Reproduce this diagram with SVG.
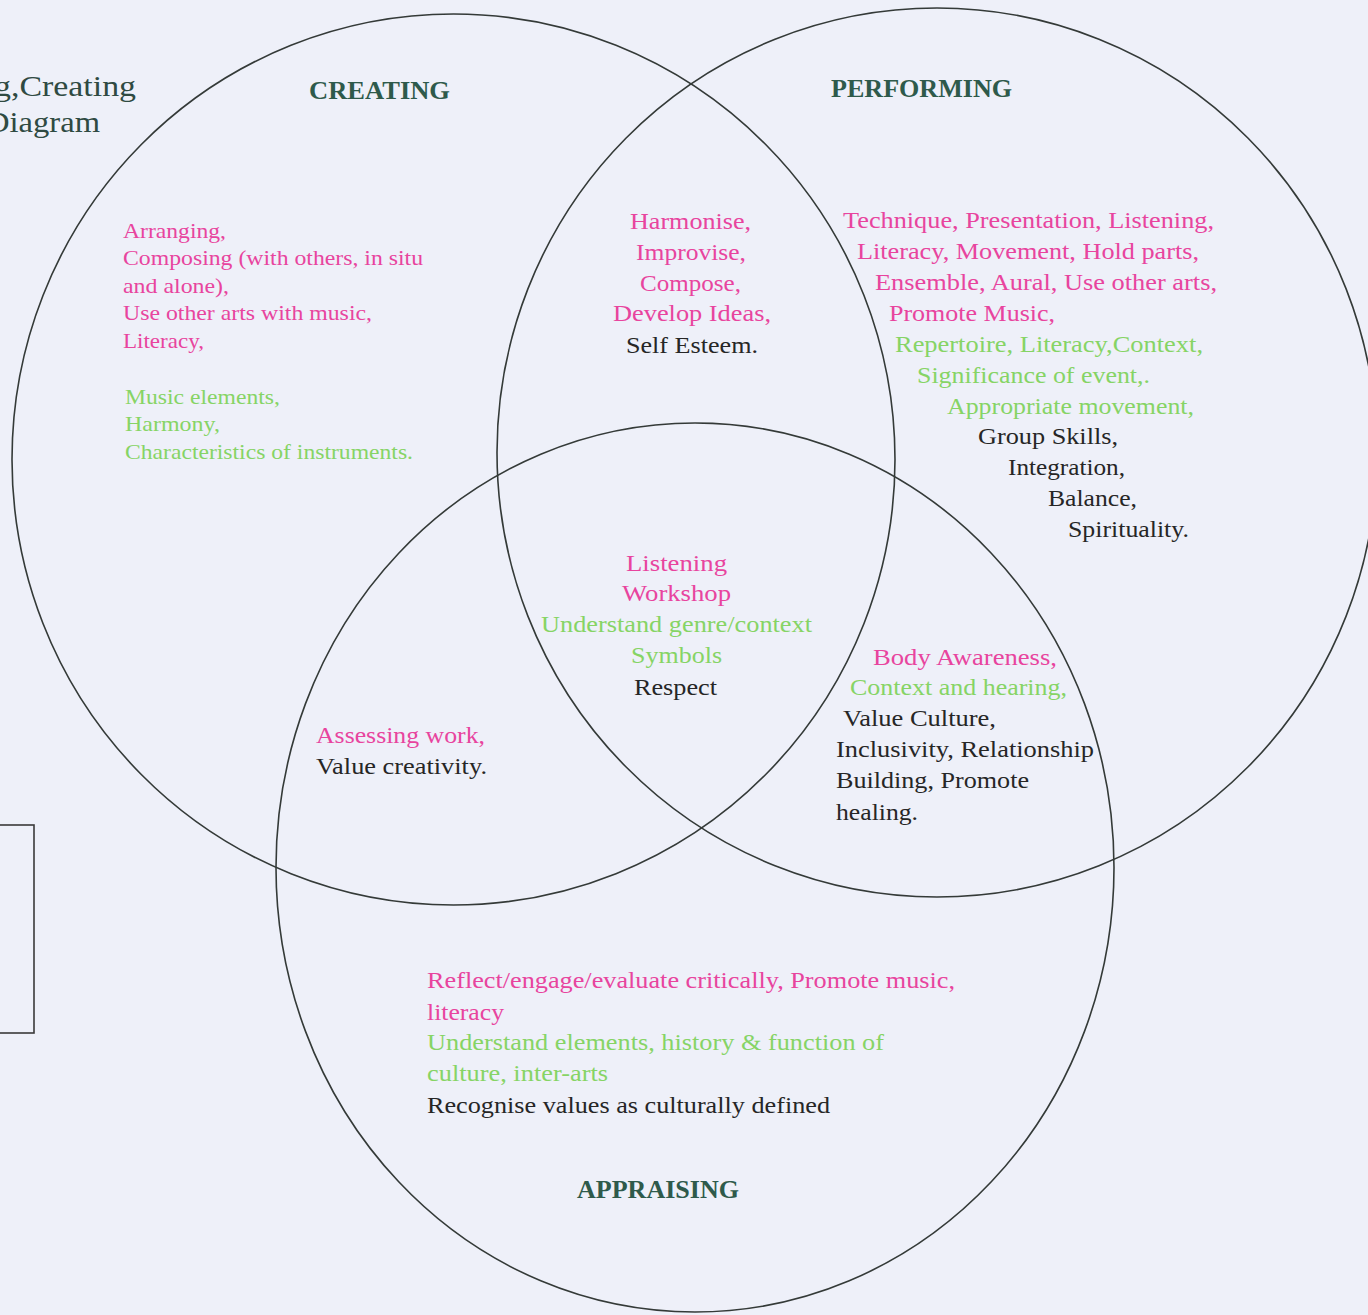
<svg xmlns="http://www.w3.org/2000/svg" width="1368" height="1315" viewBox="0 0 1368 1315">
<style>
text{font-family:"Liberation Serif","Times New Roman",serif;font-size:24px}
.p{fill:#e8449e}
.g{fill:#86d465}
.k{fill:#262626}
.h{fill:#2e5a4b;font-weight:bold;font-size:25px}
.t{fill:#2f4a42;font-size:30px}
.s{font-size:22px}
.ring{fill:none;stroke:#343a38;stroke-width:1.6}
</style>
<rect width="1368" height="1315" fill="#eef0f9"/>
<g id="connectors"></g>
<g id="title">
<text class="t" x="-6" y="96" textLength="142" lengthAdjust="spacingAndGlyphs">g,Creating</text>
<text class="t" x="-14" y="132" textLength="114" lengthAdjust="spacingAndGlyphs">Diagram</text>
</g>
<g id="box"><rect x="-5" y="825" width="39" height="208" fill="none" stroke="#3a3a3a" stroke-width="1.6"/></g>
<g id="creating">
<ellipse class="ring" cx="453.5" cy="459.5" rx="441.5" ry="445.5"/>
<text class="h" x="309" y="99" textLength="141" lengthAdjust="spacingAndGlyphs">CREATING</text>
<text class="p s" x="123" y="238" textLength="103" lengthAdjust="spacingAndGlyphs">Arranging,</text>
<text class="p s" x="123" y="265" textLength="300" lengthAdjust="spacingAndGlyphs">Composing (with others, in situ</text>
<text class="p s" x="123" y="293" textLength="106" lengthAdjust="spacingAndGlyphs">and alone),</text>
<text class="p s" x="123" y="320" textLength="249" lengthAdjust="spacingAndGlyphs">Use other arts with music,</text>
<text class="p s" x="123" y="348" textLength="81" lengthAdjust="spacingAndGlyphs">Literacy,</text>
<text class="g s" x="125" y="404" textLength="155" lengthAdjust="spacingAndGlyphs">Music elements,</text>
<text class="g s" x="125" y="431" textLength="95" lengthAdjust="spacingAndGlyphs">Harmony,</text>
<text class="g s" x="125" y="459" textLength="288" lengthAdjust="spacingAndGlyphs">Characteristics of instruments.</text>
</g>
<g id="performing">
<ellipse class="ring" cx="937" cy="452.5" rx="440" ry="444.5"/>
<text class="h" x="831" y="97" textLength="181" lengthAdjust="spacingAndGlyphs">PERFORMING</text>
<text class="p" x="843" y="228" textLength="371" lengthAdjust="spacingAndGlyphs">Technique, Presentation, Listening,</text>
<text class="p" x="857" y="259" textLength="342" lengthAdjust="spacingAndGlyphs">Literacy, Movement, Hold parts,</text>
<text class="p" x="875" y="290" textLength="342" lengthAdjust="spacingAndGlyphs">Ensemble, Aural, Use other arts,</text>
<text class="p" x="889" y="321" textLength="166" lengthAdjust="spacingAndGlyphs">Promote Music,</text>
<text class="g" x="895" y="352" textLength="308" lengthAdjust="spacingAndGlyphs">Repertoire, Literacy,Context,</text>
<text class="g" x="917" y="383" textLength="233" lengthAdjust="spacingAndGlyphs">Significance of event,.</text>
<text class="g" x="947" y="414" textLength="247" lengthAdjust="spacingAndGlyphs">Appropriate movement,</text>
<text class="k" x="978" y="444" textLength="140" lengthAdjust="spacingAndGlyphs">Group Skills,</text>
<text class="k" x="1008" y="475" textLength="117" lengthAdjust="spacingAndGlyphs">Integration,</text>
<text class="k" x="1048" y="506" textLength="89" lengthAdjust="spacingAndGlyphs">Balance,</text>
<text class="k" x="1068" y="537" textLength="121" lengthAdjust="spacingAndGlyphs">Spirituality.</text>
</g>
<g id="appraising">
<ellipse class="ring" cx="695" cy="867.5" rx="419" ry="444.5"/>
<text class="h" x="577" y="1198" textLength="162" lengthAdjust="spacingAndGlyphs">APPRAISING</text>
<text class="p" x="427" y="988" textLength="528" lengthAdjust="spacingAndGlyphs">Reflect/engage/evaluate critically, Promote music,</text>
<text class="p" x="427" y="1020" textLength="77" lengthAdjust="spacingAndGlyphs">literacy</text>
<text class="g" x="427" y="1050" textLength="457" lengthAdjust="spacingAndGlyphs">Understand elements, history &amp; function of</text>
<text class="g" x="427" y="1081" textLength="181" lengthAdjust="spacingAndGlyphs">culture, inter-arts</text>
<text class="k" x="427" y="1113" textLength="403" lengthAdjust="spacingAndGlyphs">Recognise values as culturally defined</text>
</g>
<g id="creating-performing">
<text class="p" x="630" y="229" textLength="121" lengthAdjust="spacingAndGlyphs">Harmonise,</text>
<text class="p" x="636" y="260" textLength="110" lengthAdjust="spacingAndGlyphs">Improvise,</text>
<text class="p" x="640" y="291" textLength="101" lengthAdjust="spacingAndGlyphs">Compose,</text>
<text class="p" x="613" y="321" textLength="158" lengthAdjust="spacingAndGlyphs">Develop Ideas,</text>
<text class="k" x="626" y="353" textLength="132" lengthAdjust="spacingAndGlyphs">Self Esteem.</text>
</g>
<g id="all-three">
<text class="p" x="626" y="571" textLength="101" lengthAdjust="spacingAndGlyphs">Listening</text>
<text class="p" x="622" y="601" textLength="109" lengthAdjust="spacingAndGlyphs">Workshop</text>
<text class="g" x="541" y="632" textLength="271" lengthAdjust="spacingAndGlyphs">Understand genre/context</text>
<text class="g" x="631" y="663" textLength="91" lengthAdjust="spacingAndGlyphs">Symbols</text>
<text class="k" x="634" y="695" textLength="83" lengthAdjust="spacingAndGlyphs">Respect</text>
</g>
<g id="creating-appraising">
<text class="p" x="316" y="743" textLength="169" lengthAdjust="spacingAndGlyphs">Assessing work,</text>
<text class="k" x="316" y="774" textLength="171" lengthAdjust="spacingAndGlyphs">Value creativity.</text>
</g>
<g id="performing-appraising">
<text class="p" x="873" y="665" textLength="184" lengthAdjust="spacingAndGlyphs">Body Awareness,</text>
<text class="g" x="850" y="695" textLength="217" lengthAdjust="spacingAndGlyphs">Context and hearing,</text>
<text class="k" x="843" y="726" textLength="153" lengthAdjust="spacingAndGlyphs">Value Culture,</text>
<text class="k" x="836" y="757" textLength="258" lengthAdjust="spacingAndGlyphs">Inclusivity, Relationship</text>
<text class="k" x="836" y="788" textLength="193" lengthAdjust="spacingAndGlyphs">Building, Promote</text>
<text class="k" x="836" y="820" textLength="82" lengthAdjust="spacingAndGlyphs">healing.</text>
</g>
</svg>
